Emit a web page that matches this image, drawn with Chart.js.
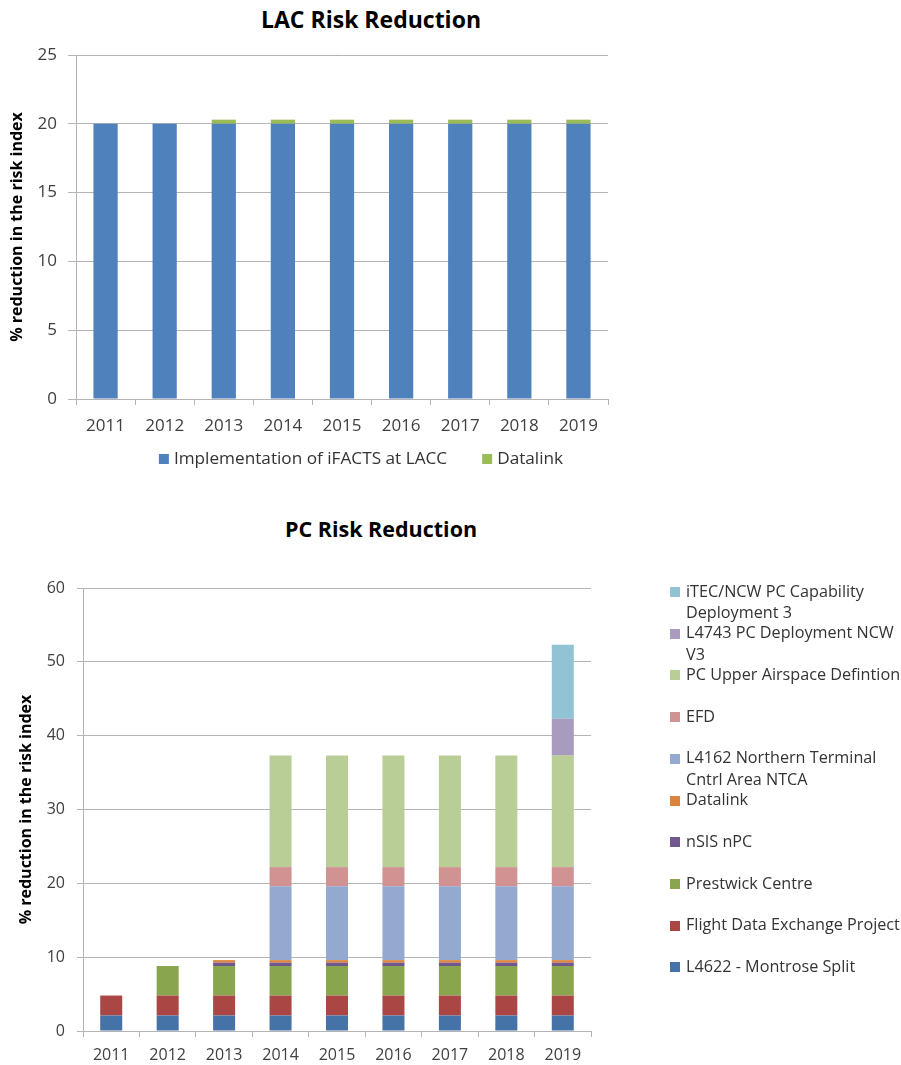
<!DOCTYPE html>
<html>
<head>
<meta charset="utf-8">
<title>Risk Reduction</title>
<script src="https://cdn.jsdelivr.net/npm/chart.js@4"></script>
<style>
  html, body { margin: 0; padding: 0; background: #fff; }
  #page { position: relative; width: 901px; height: 1065px; background: #fff; }
  canvas { position: absolute; left: 0; }
  .chart-title {
    position: absolute; transform: translateX(-50%);
    font-family: "Open Sans", sans-serif; font-weight: bold; color: #000; white-space: nowrap;
  }
</style>
</head>
<body>
<div id="page">
  <div class="chart-title" style="left:371px; top:3px; font-size:23px;">LAC Risk Reduction</div>
  <canvas id="lac-chart" width="720" height="490" style="top:0"></canvas>
  <div class="chart-title" style="left:381px; top:514px; font-size:21.5px;">PC Risk Reduction</div>
  <canvas id="pc-chart" width="901" height="575" style="top:490px"></canvas>
</div>
<script>
const years = ['2011', '2012', '2013', '2014', '2015', '2016', '2017', '2018', '2019'];

// LAC programme contributions (% reduction in the risk index)
const lacIfacts = [20, 20, 20, 20, 20, 20, 20, 20, 20];
const lacDatalink = [0, 0, 0.3, 0.3, 0.3, 0.3, 0.3, 0.3, 0.3];

// PC programme contributions, bottom of the stack first
const pcMontrose = [2.1, 2.1, 2.1, 2.1, 2.1, 2.1, 2.1, 2.1, 2.1];
const pcFlightData = [2.7, 2.7, 2.7, 2.7, 2.7, 2.7, 2.7, 2.7, 2.7];
const pcPrestwick = [0, 4.0, 4.0, 4.0, 4.0, 4.0, 4.0, 4.0, 4.0];
const pcNsis = [0, 0, 0.45, 0.45, 0.45, 0.45, 0.45, 0.45, 0.45];
const pcDatalink = [0, 0, 0.35, 0.35, 0.35, 0.35, 0.35, 0.35, 0.35];
const pcNtca = [0, 0, 0, 10.0, 10.0, 10.0, 10.0, 10.0, 10.0];
const pcEfd = [0, 0, 0, 2.6, 2.6, 2.6, 2.6, 2.6, 2.6];
const pcUpperAirspace = [0, 0, 0, 15.1, 15.1, 15.1, 15.1, 15.1, 15.1];
const pcNcwV3 = [0, 0, 0, 0, 0, 0, 0, 0, 5.0];
const pcItec = [0, 0, 0, 0, 0, 0, 0, 0, 10.0];

const gridColor = '#b4b4b4';
const tickColor = '#404040';
const fontFamily = '"Open Sans", sans-serif';

// simple legend drawn on the canvas: one row (centered) or one column with wrapped labels
const boxLegend = {
  id: 'boxLegend',
  afterDraw(chart, args, opts) {
    const ctx = chart.ctx;
    let items = chart.data.datasets.map(d => ({ text: d.label, color: d.backgroundColor }));
    if (opts.reverse) items = items.slice().reverse();
    ctx.save();
    ctx.font = opts.font;
    ctx.textBaseline = 'middle';
    const box = opts.box, gap = opts.boxGap, lh = opts.lineHeight || 20;

    const drawItem = (x, y, item) => {
      ctx.fillStyle = item.color;
      ctx.fillRect(x, Math.round(y - box / 2), box, box);
      ctx.fillStyle = opts.color;
      item.text.forEach((t, i) => ctx.fillText(t, x + box + gap, y + i * lh));
    };

    if (opts.layout === 'row') {
      const widths = items.map(it => box + gap + ctx.measureText(it.text).width);
      const total = widths.reduce((a, b) => a + b, 0) + opts.itemGap * (items.length - 1);
      let x = opts.centerX - total / 2;
      items.forEach((it, i) => {
        drawItem(x, opts.y, { color: it.color, text: [it.text] });
        x += widths[i] + opts.itemGap;
      });
    } else {
      items.forEach((it, i) => {
        const words = it.text.split(' ');
        const lines = [];
        let cur = '';
        words.forEach(w => {
          const next = cur ? cur + ' ' + w : w;
          if (cur && ctx.measureText(next).width > opts.maxWidth) { lines.push(cur); cur = w; }
          else cur = next;
        });
        lines.push(cur);
        drawItem(opts.x, opts.y + i * opts.step, { color: it.color, text: lines });
      });
    }
    ctx.restore();
  }
};

function axisTitle(padTop) {
  return {
    display: true,
    text: '% reduction in the risk index',
    color: '#000',
    font: { family: fontFamily, size: 16, weight: 'bold' },
    padding: { top: padTop, bottom: 0 }
  };
}

new Chart(document.getElementById('lac-chart'), {
  type: 'bar',
  data: {
    labels: years,
    datasets: [
      { label: 'Implementation of iFACTS at LACC', data: lacIfacts, backgroundColor: '#4F81BD' },
      { label: 'Datalink', data: lacDatalink, backgroundColor: '#9BBB59' }
    ]
  },
  options: {
    responsive: false,
    animation: false,
    layout: { padding: { top: 55, left: 0, right: 112, bottom: 51 } },
    datasets: { bar: { barPercentage: 0.41, categoryPercentage: 1 } },
    plugins: {
      legend: { display: false },
      tooltip: { enabled: false },
      boxLegend: {
        layout: 'row', centerX: 361, y: 459, box: 10, boxGap: 5, itemGap: 35,
        font: `17.2px ${fontFamily}`, color: '#333'
      }
    },
    scales: {
      x: {
        stacked: true,
        afterFit: s => { s.height = 40; },
        grid: { offset: true, drawOnChartArea: false, drawTicks: true, tickLength: 6, color: gridColor },
        border: { color: gridColor },
        ticks: { color: tickColor, padding: 11, font: { family: fontFamily, size: 17 } }
      },
      y: {
        stacked: true,
        min: 0, max: 25,
        afterFit: s => { s.width = 76; },
        grid: { color: gridColor, tickLength: 8 },
        border: { color: gridColor },
        ticks: { stepSize: 5, color: tickColor, padding: 11, font: { family: fontFamily, size: 17 } },
        title: axisTitle(8)
      }
    }
  },
  plugins: [boxLegend]
});

new Chart(document.getElementById('pc-chart'), {
  type: 'bar',
  data: {
    labels: years,
    datasets: [
      { label: 'L4622 - Montrose Split', data: pcMontrose, backgroundColor: '#4572A7' },
      { label: 'Flight Data Exchange Project', data: pcFlightData, backgroundColor: '#AA4643' },
      { label: 'Prestwick Centre', data: pcPrestwick, backgroundColor: '#89A54E' },
      { label: 'nSIS nPC', data: pcNsis, backgroundColor: '#71588F' },
      { label: 'Datalink', data: pcDatalink, backgroundColor: '#DB843D' },
      { label: 'L4162 Northern Terminal Cntrl Area NTCA', data: pcNtca, backgroundColor: '#93A9CF' },
      { label: 'EFD', data: pcEfd, backgroundColor: '#D19392' },
      { label: 'PC Upper Airspace Defintion', data: pcUpperAirspace, backgroundColor: '#B9CD96' },
      { label: 'L4743 PC Deployment NCW V3', data: pcNcwV3, backgroundColor: '#A99BBD' },
      { label: 'iTEC/NCW PC Capability Deployment 3', data: pcItec, backgroundColor: '#92C3D5' }
    ]
  },
  options: {
    responsive: false,
    animation: false,
    layout: { padding: { top: 98, left: 0, right: 310, bottom: 0 } },
    datasets: { bar: { barPercentage: 0.39, categoryPercentage: 1 } },
    plugins: {
      legend: { display: false },
      tooltip: { enabled: false },
      boxLegend: {
        layout: 'column', reverse: true, x: 670, y: 102, step: 41.7, lineHeight: 21.5,
        maxWidth: 222, box: 10, boxGap: 6, font: `16.2px ${fontFamily}`, color: '#333'
      }
    },
    scales: {
      x: {
        stacked: true,
        afterFit: s => { s.height = 34; },
        grid: { offset: true, drawOnChartArea: false, drawTicks: true, tickLength: 6, color: gridColor },
        border: { color: gridColor },
        ticks: { color: tickColor, padding: 9, font: { family: fontFamily, size: 16 } }
      },
      y: {
        stacked: true,
        min: 0, max: 60,
        afterFit: s => { s.width = 83; },
        grid: { color: gridColor, tickLength: 6 },
        border: { color: gridColor },
        ticks: { stepSize: 10, color: tickColor, padding: 12, font: { family: fontFamily, size: 16 } },
        title: axisTitle(17)
      }
    }
  },
  plugins: [boxLegend]
});
</script>
</body>
</html>
